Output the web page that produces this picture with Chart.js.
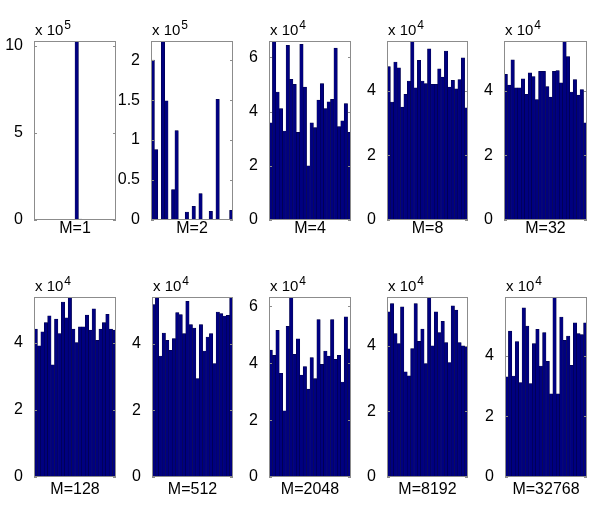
<!DOCTYPE html>
<html>
<head>
<meta charset="utf-8">
<script src="https://cdn.jsdelivr.net/npm/chart.js@4.4.1/dist/chart.umd.min.js"></script>
<style>
  body { margin: 0; background: #fff; }
  #wrap { position: relative; width: 601px; height: 509px; background: #fff; overflow: hidden; }
  #wrap canvas { position: absolute; }
</style>
</head>
<body>
<div id="wrap"></div>
<script>
// one histogram per M, 24 bins each, counts in units of 10^exponent
const panelLabels = ["M=1", "M=2", "M=4", "M=8", "M=32", "M=128", "M=512", "M=2048", "M=8192", "M=32768"];
const exponents = [5, 5, 4, 4, 4, 4, 4, 4, 4, 4];
const yMaxes = [10.27, 2.24, 6.6, 5.55, 5.55, 5.37, 5.4, 6.33, 5.48, 5.95];
const yTicks = [
    [0, 5, 10],
    [0, 0.5, 1, 1.5, 2],
    [0, 2, 4, 6],
    [0, 2, 4],
    [0, 2, 4],
    [0, 2, 4],
    [0, 2, 4],
    [0, 2, 4, 6],
    [0, 2, 4],
    [0, 2, 4]
];

const countsM1 = [0, 0, 0, 0, 0, 0, 0, 0, 0, 0, 0, 0, 10.27, 0.05, 0, 0, 0, 0, 0, 0, 0, 0, 0, 0];
const countsM2 = [2.0, 0.88, 0, 2.24, 1.49, 0, 0.38, 1.12, 0, 0, 0.10, 0, 0.17, 0, 0.33, 0, 0, 0.11, 0, 1.51, 0, 0, 0, 0.12];
const countsM4 = [3.58, 6.6, 4.72, 4.11, 3.28, 6.44, 5.19, 5.0, 3.23, 6.48, 4.9, 2.0, 3.58, 3.41, 4.42, 5.03, 4.11, 4.36, 4.45, 6.34, 3.44, 3.66, 4.29, 3.23];
const countsM8 = [4.76, 3.66, 4.9, 4.72, 3.5, 3.9, 4.31, 5.55, 4.1, 4.95, 4.31, 4.23, 5.31, 4.21, 4.21, 4.69, 4.43, 5.24, 4.12, 4.33, 4.07, 4.35, 5.03, 3.48];
const countsM32 = [4.52, 4.18, 4.97, 4.1, 4.1, 4.38, 3.9, 4.56, 4.45, 3.73, 4.61, 4.61, 4.14, 3.81, 4.61, 4.63, 4.25, 5.55, 5.07, 3.97, 4.35, 3.87, 4.04, 3.01];
const countsM128 = [4.41, 3.91, 4.33, 4.61, 4.81, 3.35, 4.71, 4.28, 5.22, 4.75, 5.37, 4.41, 4.01, 4.48, 4.48, 4.83, 4.38, 5.02, 4.08, 4.41, 4.61, 4.85, 4.41, 4.38];
const countsM512 = [5.17, 5.4, 3.63, 4.32, 4.1, 3.8, 4.15, 4.93, 4.87, 4.3, 5.27, 4.57, 4.47, 2.95, 4.57, 3.78, 4.2, 4.3, 3.4, 4.95, 4.9, 4.83, 4.85, 5.4];
const countsM2048 = [4.46, 4.28, 5.16, 3.65, 2.33, 5.3, 6.33, 4.31, 4.86, 3.58, 3.88, 3.09, 4.2, 3.46, 5.54, 3.96, 4.43, 4.25, 5.54, 4.14, 4.28, 3.34, 5.63, 4.51];
const countsM8192 = [5.03, 5.28, 4.37, 4.06, 5.18, 3.2, 3.08, 3.91, 5.28, 4.13, 4.5, 3.45, 5.48, 3.99, 5.03, 4.4, 4.74, 4.09, 3.48, 5.21, 5.08, 4.09, 3.99, 3.96];
const countsM32768 = [3.31, 4.82, 3.34, 4.48, 3.12, 5.59, 4.99, 3.09, 4.41, 4.88, 3.67, 4.77, 3.82, 2.75, 5.95, 2.75, 5.29, 4.52, 4.66, 3.69, 5.1, 4.74, 4.71, 5.1];

const allCounts = [countsM1, countsM2, countsM4, countsM8, countsM32, countsM128, countsM512, countsM2048, countsM8192, countsM32768];

// plot area of each panel on the page: left, top, width, height, gap under the M label
const panelBoxes = [
    [34, 41, 82, 179, 13], [151, 41, 82, 179, 13], [269, 41, 82, 179, 13], [387, 41, 81, 179, 13], [504, 41, 83, 179, 13],
    [34, 297, 82, 180, 9], [152, 297, 81, 180, 9], [269, 297, 82, 180, 9], [387, 297, 81, 180, 9], [505, 297, 82, 180, 9]
];

const FONT = "'Liberation Sans', Arial, Helvetica, sans-serif";

// matlab style box, inward ticks and the "x 10^n" label
const matlabAxes = {
    id: "matlabAxes",
    afterDatasetsDraw(chart, args, opts) {
        const ctx = chart.ctx;
        const a = chart.chartArea;
        const y = chart.scales.y;
        ctx.save();
        ctx.strokeStyle = "#8c8c8c";
        ctx.lineWidth = 1;
        ctx.strokeRect(a.left + 0.5, a.top + 0.5, a.right - a.left - 1, a.bottom - a.top - 1);
        y.ticks.forEach(function (t) {
            let py = Math.round(y.getPixelForValue(t.value)) + 0.5;
            ctx.beginPath();
            ctx.moveTo(a.left, py);
            ctx.lineTo(a.left + 3, py);
            ctx.moveTo(a.right, py);
            ctx.lineTo(a.right - 3, py);
            ctx.stroke();
        });
        ctx.fillStyle = "#000";
        ctx.textBaseline = "alphabetic";
        ctx.textAlign = "left";
        ctx.font = "15px " + FONT;
        ctx.fillText("x 10", a.left + 1, a.top - 6);
        let w = ctx.measureText("x 10").width;
        ctx.font = "12px " + FONT;
        ctx.fillText(String(opts.exponent), a.left + 2 + w, a.top - 12);
        ctx.restore();
    }
};

const wrap = document.getElementById("wrap");

panelLabels.forEach(function (label, i) {
    let box = panelBoxes[i];
    let counts = allCounts[i];
    let canvas = document.createElement("canvas");
    let cw = 34 + box[2] + 6;
    let ch = 34 + box[3] + 30;
    canvas.width = cw;
    canvas.height = ch;
    canvas.style.width = cw + "px";
    canvas.style.height = ch + "px";
    canvas.style.left = (box[0] - 34) + "px";
    canvas.style.top = (box[1] - 34) + "px";
    wrap.appendChild(canvas);

    new Chart(canvas, {
        type: "bar",
        data: {
            labels: counts.map(function (v, k) { return k + 1; }),
            datasets: [
                {
                    data: counts,
                    backgroundColor: "#000080",
                    borderColor: "#00003c",
                    borderWidth: 0.5,
                    categoryPercentage: 1,
                    barPercentage: 1
                }
            ]
        },
        options: {
            responsive: false,
            animation: false,
            devicePixelRatio: 1,
            layout: { padding: { top: 34, right: 6, left: 0, bottom: 0 } },
            plugins: {
                legend: { display: false },
                tooltip: { enabled: false },
                matlabAxes: { exponent: exponents[i] }
            },
            scales: {
                x: {
                    grid: { display: false },
                    border: { display: false },
                    ticks: { display: false },
                    title: {
                        display: true,
                        text: label,
                        color: "#000",
                        font: { family: FONT, size: 16, lineHeight: 1 },
                        padding: { top: 0, bottom: box[4] }
                    },
                    afterFit: function (scale) { scale.height = 30; }
                },
                y: {
                    min: 0,
                    max: yMaxes[i],
                    grid: { display: false },
                    border: { display: false },
                    ticks: {
                        color: "#000",
                        padding: 3,
                        font: { family: FONT, size: 16 },
                        callback: function (v) { return String(v); }
                    },
                    afterBuildTicks: function (scale) {
                        scale.ticks = yTicks[i].map(function (v) { return { value: v }; });
                    },
                    afterFit: function (scale) { scale.width = 34; }
                }
            }
        },
        plugins: [matlabAxes]
    });
});
</script>
</body>
</html>
